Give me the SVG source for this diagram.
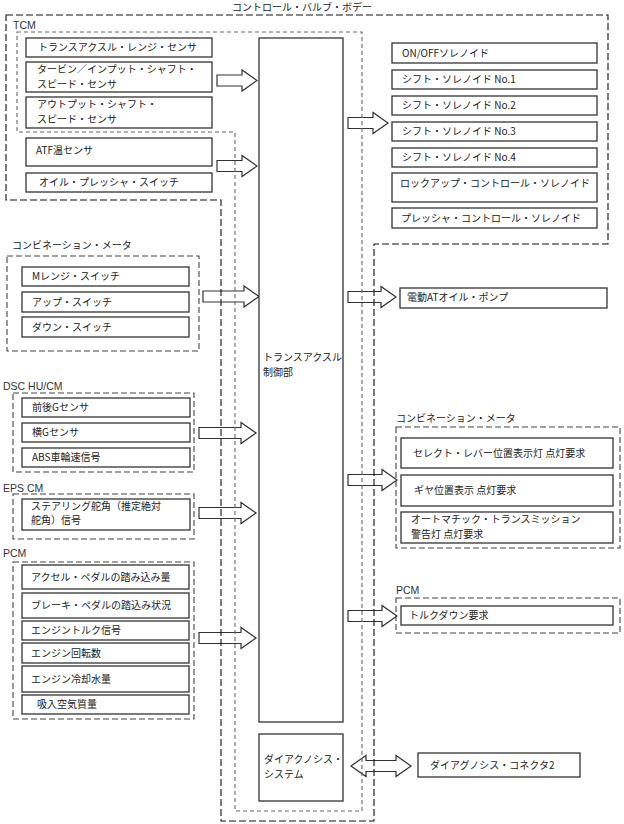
<svg xmlns="http://www.w3.org/2000/svg" width="624" height="824" viewBox="0 0 624 824">
<style>
text{font-family:"Noto Sans CJK JP","Liberation Sans",sans-serif;font-size:10px;fill:#222}
.lbl{font-family:"Liberation Sans","Noto Sans CJK JP",sans-serif;font-size:10.5px;font-weight:normal;fill:#333}
.box{fill:#fff;stroke:#333;stroke-width:1.3}
.grp{fill:none;stroke:#444;stroke-width:1.1;stroke-dasharray:6 3}
.tcm{fill:none;stroke:#666;stroke-width:1.1;stroke-dasharray:4 3}
.cvb{fill:none;stroke:#111;stroke-width:1.1;stroke-dasharray:7 3}
.arr{fill:#fff;stroke:#333;stroke-width:1.2;stroke-linejoin:miter}
</style>
<rect width="624" height="824" fill="#fff"/>

<g id="connectors">
<path class="arr" d="M217,75 H242 V70 L257,80.5 L242,91 V86 H217 Z"/>
<path class="arr" d="M217,160.5 H242 V155.5 L257,166 L242,176.5 V171.5 H217 Z"/>
<path class="arr" d="M203,291 H244 V286 L259,296.5 L244,307 V302 H203 Z"/>
<path class="arr" d="M199,427.5 H241 V422.5 L256,433 L241,443.5 V438.5 H199 Z"/>
<path class="arr" d="M199,507.5 H241 V502.5 L256,513 L241,523.5 V518.5 H199 Z"/>
<path class="arr" d="M199,632.5 H241 V627.5 L256,638 L241,648.5 V643.5 H199 Z"/>
<path class="arr" d="M348,117.5 H373 V112.5 L388,123 L373,133.5 V128.5 H348 Z"/>
<path class="arr" d="M348,291.5 H381 V286.5 L396,297 L381,307.5 V302.5 H348 Z"/>
<path class="arr" d="M348,474.5 H382 V469.5 L397,480 L382,490.5 V485.5 H348 Z"/>
<path class="arr" d="M348,610.5 H382 V605.5 L397,616 L382,626.5 V621.5 H348 Z"/>
<path class="arr" d="M351,766 L366,755.5 V760.5 H396 V755.5 L411,766 L396,776.5 V771.5 H366 V776.5 Z"/>
</g>

<g id="control-valve-body">
<path class="cvb" d="M6,15 H608 V244 H374 V821 H221 V200 H6 Z"/>
<text x="232" y="11">コントロール・バルブ・ボデー</text>
</g>

<g id="tcm">
<path class="tcm" d="M17,32 H362 V811 H235 V132 H17 Z"/>
<text class="lbl" x="13" y="29">TCM</text>
</g>

<g id="tcm-inputs">
<rect class="box" x="26" y="38" width="186" height="19"/>
<text x="38" y="51">トランスアクスル・レンジ・センサ</text>
<rect class="box" x="26" y="62" width="186" height="30"/>
<text x="37" y="73">タービン／インプット・シャフト・</text>
<text x="37" y="87.5">スピード・センサ</text>
<rect class="box" x="26" y="97" width="186" height="31"/>
<text x="37" y="108">アウトプット・シャフト・</text>
<text x="37" y="122.5">スピード・センサ</text>
<rect class="box" x="26" y="138" width="186" height="28"/>
<text x="36" y="153.5">ATF温センサ</text>
<rect class="box" x="26" y="173" width="186" height="19"/>
<text x="39" y="186">オイル・プレッシャ・スイッチ</text>
</g>

<g id="transaxle-control">
<rect class="box" x="259" y="38" width="84" height="684"/>
<text x="263" y="361">トランスアクスル</text>
<text x="263" y="376">制御部</text>
</g>

<g id="diagnosis-system">
<rect class="box" x="259" y="734" width="84" height="67"/>
<text x="264" y="763">ダイアクノシス・</text>
<text x="264" y="777.5">システム</text>
</g>

<g id="valve-outputs">
<rect class="box" x="392" y="43" width="205" height="20"/>
<text x="402" y="56.5">ON/OFFソレノイド</text>
<rect class="box" x="392" y="70" width="205" height="19"/>
<text x="402" y="83">シフト・ソレノイド No.1</text>
<rect class="box" x="392" y="96" width="205" height="19"/>
<text x="402" y="109">シフト・ソレノイド No.2</text>
<rect class="box" x="392" y="122" width="205" height="19"/>
<text x="402" y="135">シフト・ソレノイド No.3</text>
<rect class="box" x="392" y="148" width="205" height="19"/>
<text x="402" y="161">シフト・ソレノイド No.4</text>
<rect class="box" x="392" y="173" width="205" height="29"/>
<text x="400" y="187">ロックアップ・コントロール・ソレノイド</text>
<rect class="box" x="392" y="208" width="205" height="20"/>
<text x="401" y="221.5">プレッシャ・コントロール・ソレノイド</text>
</g>

<g id="oil-pump">
<rect class="box" x="400" y="288" width="207" height="20"/>
<text x="407" y="301">電動ATオイル・ポンプ</text>
</g>

<g id="combination-meter-in">
<text x="12" y="249">コンビネーション・メータ</text>
<rect class="grp" x="7" y="256" width="192" height="95"/>
<rect class="box" x="22" y="267" width="167" height="19"/>
<text x="32" y="280">Mレンジ・スイッチ</text>
<rect class="box" x="22" y="292" width="167" height="20"/>
<text x="32" y="305.5">アップ・スイッチ</text>
<rect class="box" x="22" y="317" width="167" height="20"/>
<text x="32" y="330.5">ダウン・スイッチ</text>
</g>

<g id="dsc">
<text class="lbl" x="3" y="390">DSC HU/CM</text>
<rect class="grp" x="13" y="393" width="181" height="79"/>
<rect class="box" x="22" y="398" width="168" height="19"/>
<text x="32" y="411">前後Gセンサ</text>
<rect class="box" x="22" y="423" width="168" height="19"/>
<text x="32" y="436">横Gセンサ</text>
<rect class="box" x="22" y="448" width="168" height="19"/>
<text x="32" y="461">ABS車輪速信号</text>
</g>

<g id="eps">
<text class="lbl" x="3" y="491.5">EPS CM</text>
<rect class="grp" x="13" y="494" width="181" height="45"/>
<rect class="box" x="22" y="499" width="168" height="31"/>
<text x="31" y="509.5">ステアリング舵角（推定絶対</text>
<text x="31" y="524">舵角）信号</text>
</g>

<g id="pcm-in">
<text class="lbl" x="3" y="556.5">PCM</text>
<rect class="grp" x="13" y="562" width="181" height="157"/>
<rect class="box" x="22" y="565" width="167" height="24"/>
<text x="31" y="580.5">アクセル・ペダルの踏み込み量</text>
<rect class="box" x="22" y="593" width="167" height="25"/>
<text x="31" y="609">ブレーキ・ペダルの踏込み状況</text>
<rect class="box" x="22" y="621" width="167" height="19"/>
<text x="31" y="634">エンジントルク信号</text>
<rect class="box" x="22" y="643" width="167" height="20"/>
<text x="31" y="656.5">エンジン回転数</text>
<rect class="box" x="22" y="666" width="167" height="26"/>
<text x="31" y="682.5">エンジン冷却水量</text>
<rect class="box" x="22" y="695" width="167" height="19"/>
<text x="37" y="708">吸入空気質量</text>
</g>

<g id="combination-meter-out">
<text x="396" y="421.5">コンビネーション・メータ</text>
<rect class="grp" x="396" y="427" width="224" height="121"/>
<rect class="box" x="401" y="438" width="212" height="30"/>
<text x="413" y="456.5">セレクト・レバー位置表示灯 点灯要求</text>
<rect class="box" x="401" y="475" width="212" height="31"/>
<text x="414" y="493.5">ギヤ位置表示 点灯要求</text>
<rect class="box" x="401" y="512" width="212" height="31"/>
<text x="411" y="523">オートマチック・トランスミッション</text>
<text x="411" y="537.5">警告灯 点灯要求</text>
</g>

<g id="pcm-out">
<text class="lbl" x="396" y="594">PCM</text>
<rect class="grp" x="396" y="598" width="224" height="35"/>
<rect class="box" x="401" y="606" width="212" height="19"/>
<text x="409" y="618.5">トルクダウン要求</text>
</g>

<g id="diagnosis-connector">
<rect class="box" x="418" y="753" width="162" height="24"/>
<text x="430" y="768.5">ダイアグノシス・コネクタ2</text>
</g>
</svg>
